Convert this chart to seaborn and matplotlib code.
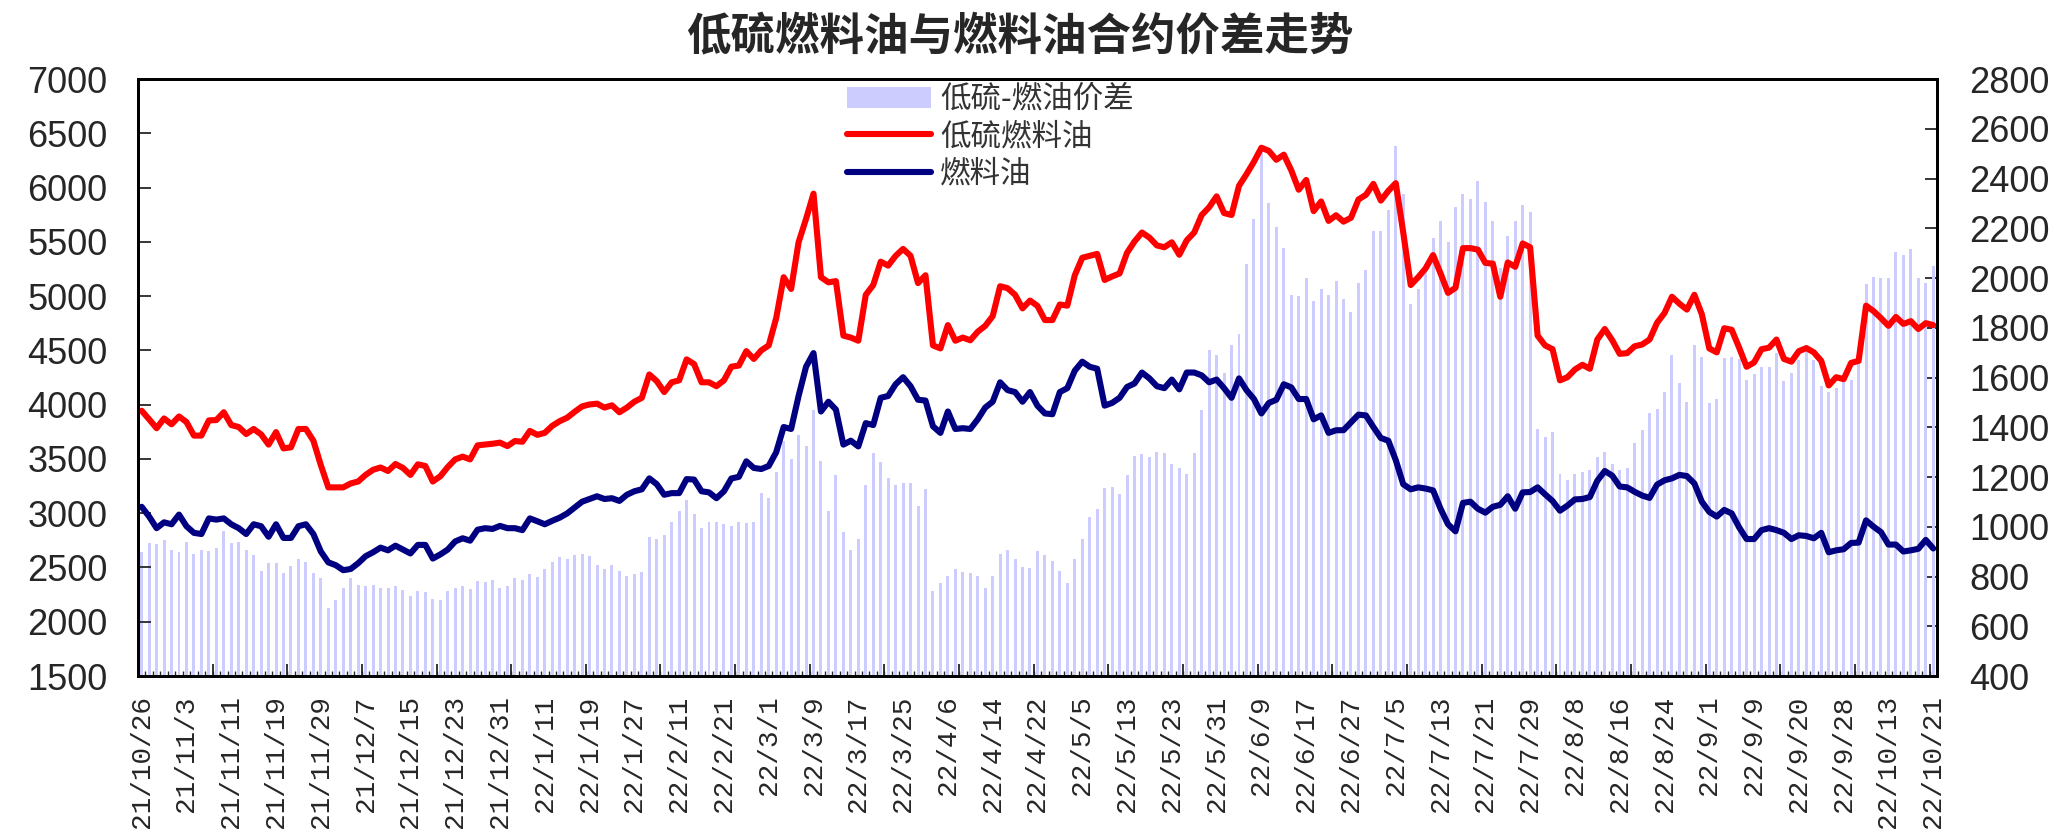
import numpy as np
import pandas as pd
import matplotlib.pyplot as plt
import seaborn as sns
from matplotlib.patches import Patch
from matplotlib.lines import Line2D

# tick labels (every 6th trading day)
dates = ['21/10/26', '21/11/3', '21/11/11', '21/11/19', '21/11/29', '21/12/7',
         '21/12/15', '21/12/23', '21/12/31', '22/1/11', '22/1/19', '22/1/27',
         '22/2/11', '22/2/21', '22/3/1', '22/3/9', '22/3/17', '22/3/25',
         '22/4/6', '22/4/14', '22/4/22', '22/5/5', '22/5/13', '22/5/23',
         '22/5/31', '22/6/9', '22/6/17', '22/6/27', '22/7/5', '22/7/13',
         '22/7/21', '22/7/29', '22/8/8', '22/8/16', '22/8/24', '22/9/1',
         '22/9/9', '22/9/20', '22/9/28', '22/10/13', '22/10/21']

# 低硫燃料油 (left axis)
lu = [3944, 3865, 3783, 3873, 3819, 3891, 3840, 3715, 3715, 3855,
      3858, 3930, 3812, 3794, 3729, 3776, 3726, 3632, 3747, 3597,
      3607, 3776, 3776, 3668, 3443, 3238, 3238, 3238, 3274, 3292,
      3353, 3400, 3421, 3389, 3453, 3417, 3353, 3450, 3435, 3292,
      3340, 3425, 3496, 3521, 3496, 3625, 3632, 3640, 3650, 3618,
      3665, 3658, 3758, 3722, 3740, 3805, 3848, 3880, 3934, 3984,
      4002, 4009, 3973, 3994, 3930, 3973, 4027, 4063, 4278, 4217,
      4116, 4206, 4224, 4417, 4374, 4206, 4206, 4170, 4224, 4350,
      4360, 4493, 4421, 4500, 4546, 4797, 5174, 5066, 5496, 5711,
      5944, 5174, 5127, 5138, 4636, 4618, 4589, 5012, 5102, 5317,
      5281, 5371, 5435, 5371, 5120, 5192, 4546, 4518, 4733, 4589,
      4618, 4593, 4672, 4726, 4815, 5091, 5073, 5012, 4887, 4959,
      4910, 4779, 4779, 4923, 4912, 5192, 5353, 5371, 5389, 5149,
      5181, 5209, 5399, 5503, 5586, 5539, 5467, 5450, 5496, 5381,
      5514, 5586, 5747, 5819, 5919, 5765, 5747, 6016, 6123, 6238,
      6367, 6338, 6256, 6303, 6159, 5980, 6070, 5783, 5872, 5693,
      5745, 5686, 5722, 5890, 5933, 6034, 5880, 5969, 6041, 5586,
      5102, 5174, 5256, 5378, 5209, 5030, 5077, 5442, 5442, 5428,
      5306, 5299, 4994, 5310, 5270, 5485, 5450, 4636, 4546, 4511,
      4224, 4253, 4324, 4367, 4331, 4600, 4697, 4593, 4468, 4475,
      4538, 4554, 4600, 4754, 4844, 4994, 4930, 4876, 5012, 4833,
      4518, 4482, 4704, 4690, 4525, 4349, 4389, 4511, 4525, 4600,
      4421, 4396, 4493, 4521, 4482, 4403, 4177, 4253, 4235, 4385,
      4403, 4912, 4862, 4797, 4726, 4808, 4744, 4769, 4697, 4751,
      4733]

# 燃料油 (left axis)
fu = [3059, 2969, 2862, 2916, 2898, 2987, 2880, 2819, 2808, 2952,
      2941, 2952, 2898, 2862, 2808, 2898, 2880, 2783, 2898, 2772,
      2772, 2880, 2898, 2808, 2647, 2547, 2521, 2475, 2486, 2539,
      2604, 2640, 2683, 2658, 2701, 2665, 2629, 2708, 2708, 2582,
      2620, 2665, 2740, 2769, 2747, 2848, 2862, 2855, 2883, 2862,
      2862, 2844, 2952, 2926, 2898, 2930, 2959, 2998, 3052, 3106,
      3131, 3156, 3131, 3138, 3113, 3170, 3202, 3220, 3321, 3267,
      3170, 3185, 3185, 3314, 3310, 3202, 3192, 3138, 3202, 3320,
      3335, 3478, 3417, 3407, 3435, 3561, 3794, 3776, 4080, 4349,
      4475, 3937, 4027, 3955, 3632, 3668, 3615, 3830, 3812, 4063,
      4080, 4188, 4253, 4170, 4045, 4038, 3801, 3740, 3937, 3776,
      3783, 3776, 3865, 3973, 4027, 4206, 4134, 4116, 4027, 4116,
      3990, 3919, 3912, 4116, 4152, 4313, 4396, 4349, 4331, 3991,
      4016, 4063, 4163, 4195, 4296, 4242, 4170, 4152, 4231, 4141,
      4296, 4296, 4270, 4206, 4231, 4152, 4063, 4242, 4134, 4052,
      3919, 4016, 4045, 4188, 4159, 4052, 4052, 3865, 3901, 3740,
      3764, 3765, 3837, 3908, 3901, 3794, 3693, 3668, 3489, 3267,
      3220, 3238, 3227, 3210, 3041, 2898, 2833, 3095, 3106, 3041,
      3005, 3059, 3077, 3156, 3041, 3192, 3195, 3238, 3174, 3113,
      3023, 3070, 3127, 3131, 3149, 3299, 3389, 3346, 3246, 3238,
      3197, 3163, 3141, 3263, 3303, 3321, 3353, 3342, 3274, 3106,
      3012, 2969, 3030, 2998, 2869, 2762, 2762, 2844, 2862, 2844,
      2819, 2762, 2797, 2790, 2769, 2819, 2640, 2658, 2668, 2726,
      2729, 2934, 2876, 2826, 2711, 2711, 2647, 2658, 2672, 2754,
      2675]

# 低硫-燃油价差 (right axis)
spread = [897, 935, 929, 947, 908, 897, 940, 889, 908, 904,
          916, 982, 935, 940, 908, 885, 822, 854, 854, 814,
          841, 872, 858, 814, 796, 674, 705, 755, 796, 764,
          760, 764, 755, 755, 760, 747, 721, 741, 736, 710,
          705, 741, 752, 760, 749, 783, 778, 786, 755, 760,
          796, 786, 810, 799, 830, 858, 877, 872, 885, 889,
          882, 846, 830, 846, 822, 803, 810, 819, 960, 952,
          966, 1021, 1065, 1107, 1052, 994, 1021, 1021, 1010, 1002,
          1021, 1015, 1021, 1135, 1115, 1221, 1346, 1271, 1370, 1326,
          1471, 1263, 1065, 1209, 979, 908, 952, 1166, 1295, 1260,
          1198, 1166, 1177, 1177, 1085, 1151, 741, 772, 803, 830,
          819, 814, 803, 755, 803, 889, 908, 872, 838, 835,
          904, 885, 861, 822, 772, 872, 952, 1041, 1072, 1154,
          1158, 1132, 1209, 1284, 1291, 1279, 1299, 1296, 1252, 1237,
          1213, 1296, 1471, 1709, 1690, 1620, 1729, 1776, 2058, 2238,
          2519, 2300, 2206, 2120, 1933, 1928, 2000, 1906, 1956, 1933,
          1987, 1917, 1862, 1980, 2034, 2191, 2191, 2274, 2530, 2339,
          1894, 1956, 2058, 2159, 2230, 2144, 2284, 2339, 2316, 2389,
          2305, 2230, 2042, 2167, 2230, 2295, 2264, 1393, 1362, 1381,
          1213, 1190, 1213, 1221, 1229, 1279, 1299, 1252, 1229, 1237,
          1338, 1388, 1459, 1474, 1542, 1690, 1576, 1503, 1732, 1682,
          1498, 1513, 1677, 1682, 1675, 1589, 1615, 1643, 1643, 1698,
          1584, 1620, 1670, 1729, 1671, 1565, 1542, 1557, 1581, 1592,
          1659, 1976, 2006, 2000, 2000, 2105, 2094, 2117, 2000, 1980,
          2050]

sns.set_style('ticks')
plt.rcParams['font.family'] = ['Liberation Sans', 'Noto Sans CJK SC', 'DejaVu Sans']

df = pd.DataFrame({'i': np.arange(len(lu)), 'lu': lu, 'fu': fu, 'spread': spread})

fig = plt.figure(figsize=(20.65, 8.38), dpi=100)
ax = fig.add_axes([0.0668, 0.1933, 0.8712, 0.7124])
ax2 = ax.twinx()

# bars on the right axis, lines on the left axis drawn above
sns.barplot(data=df, x='i', y='spread', ax=ax2, color='#CCCCFF', saturation=1,
            width=0.4, errorbar=None, linewidth=0)
sns.lineplot(data=df, x='i', y='lu', ax=ax, color='#FF0000', lw=4.4)
sns.lineplot(data=df, x='i', y='fu', ax=ax, color='#000080', lw=4.4)
ax.set_zorder(ax2.get_zorder() + 1)
ax.patch.set_visible(False)

ax.set_xlim(-0.5, len(lu) - 0.5)
ax.set_ylim(1500, 7000)
ax2.set_ylim(400, 2800)
ax.set_yticks(range(1500, 7001, 500))
ax2.set_yticks(range(400, 2801, 200))
ax.set_xlabel('')
ax.set_ylabel('')
ax2.set_ylabel('')
ax2.set_xlabel('')

# labels every 6 points, small ticks every point, long ticks every 10
ax.set_xticks(range(0, len(lu), 6), dates, rotation=90,
              fontfamily='Liberation Mono', fontsize=20)
ax.set_xticks(np.arange(0.5, len(lu) - 1, 1), minor=True)
ax.tick_params(axis='x', which='major', length=0, pad=14)
ax.tick_params(axis='x', which='minor', direction='in', length=3.5, width=1)
sec = ax.secondary_xaxis('bottom')
sec.set_xticks(np.arange(9.5, len(lu), 10), [''] * 24)
sec.tick_params(direction='in', length=9, width=1.3)
sec.spines['bottom'].set_visible(False)

ax.tick_params(axis='y', direction='in', length=9, width=1.3, labelsize=26, pad=22)
ax2.tick_params(axis='y', direction='in', length=9, width=1.3, labelsize=26, pad=23)

for a in (ax, ax2):
    for s in a.spines.values():
        s.set_linewidth(2)
        s.set_color('black')

handles = [Patch(facecolor='#CCCCFF', edgecolor='none'),
           Line2D([], [], color='#FF0000', lw=4.4),
           Line2D([], [], color='#000080', lw=4.4)]
fig.legend(handles, ['低硫-燃油价差', '低硫燃料油', '燃料油'],
           loc='upper left', bbox_to_anchor=(847 / 2065, 1 - 84 / 838),
           frameon=False, prop={'family': ['Noto Sans CJK SC'], 'size': 22},
           labelcolor='#333333', handlelength=2.75, handletextpad=0.3,
           labelspacing=0.2, borderpad=0, borderaxespad=0)

fig.text(0.494, 0.955, '低硫燃料油与燃料油合约价差走势', ha='center', va='center',
         fontsize=32, fontweight='bold', family=['Noto Sans CJK SC'])

fig.savefig('out.png', dpi=100)
